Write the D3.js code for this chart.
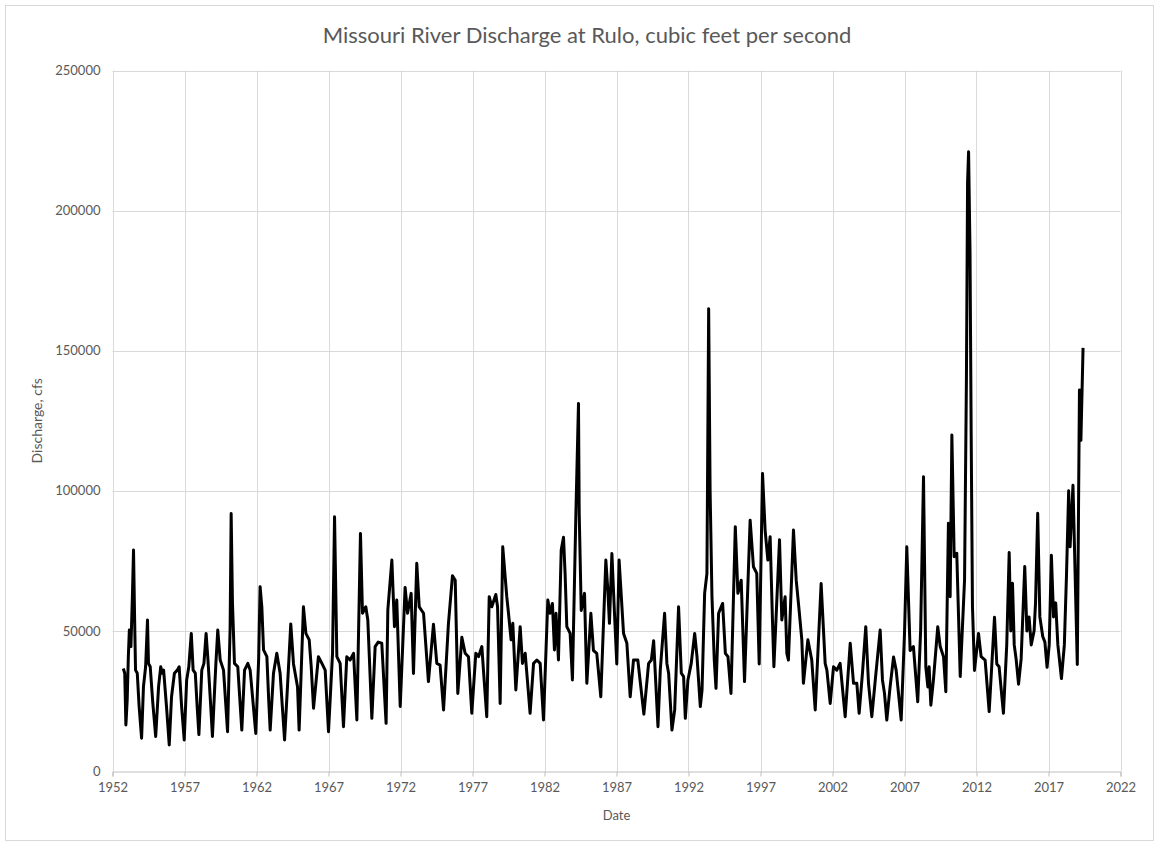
<!DOCTYPE html>
<html>
<head>
<meta charset="utf-8">
<script src="https://cdn.jsdelivr.net/npm/d3@7/dist/d3.min.js"></script>
<style>
  body { margin: 0; background: #fff; }
  text { font-family: Lato, "Open Sans", sans-serif; fill: #595959; }
</style>
</head>
<body>
<div id="visual"></div>
<script>
// Monthly-ish readings of discharge (decimal year, cfs)
const years = [
  1952.75,1952.85,1952.93,1953.02,1953.10,1953.17,1953.28,1953.38,1953.46,1953.53,1953.60,1953.72,1953.85,
  1954.02,1954.15,1954.30,1954.43,1954.50,1954.62,1954.80,1955.00,1955.20,1955.35,1955.45,1955.55,1955.75,
  1955.94,1956.10,1956.30,1956.50,1956.63,1956.80,1956.98,1957.15,1957.30,1957.47,1957.60,1957.75,1957.88,
  1958.00,1958.20,1958.35,1958.50,1958.63,1958.80,1958.94,1959.10,1959.18,1959.31,1959.48,1959.71,1959.85,
  1959.99,1960.17,1960.24,1960.33,1960.47,1960.70,1960.85,1960.98,1961.17,1961.40,1961.56,1961.75,1961.95,
  1962.15,1962.25,1962.37,1962.49,1962.72,1962.85,1962.95,1963.18,1963.41,1963.64,1963.78,1963.95,1964.15,
  1964.38,1964.57,1964.85,1964.96,1965.10,1965.26,1965.43,1965.66,1965.80,1965.96,1966.30,1966.54,1966.77,
  1967.00,1967.28,1967.42,1967.58,1967.81,1968.04,1968.27,1968.50,1968.74,1968.97,1969.22,1969.36,1969.59,
  1969.73,1970.01,1970.24,1970.45,1970.70,1971.00,1971.12,1971.40,1971.58,1971.74,1971.98,1972.32,1972.49,
  1972.74,1972.90,1973.13,1973.30,1973.60,1973.94,1974.29,1974.52,1974.75,1974.99,1975.33,1975.61,1975.80,
  1975.98,1976.26,1976.49,1976.72,1976.95,1977.23,1977.42,1977.65,1977.76,1977.99,1978.16,1978.34,1978.62,
  1978.74,1978.92,1979.10,1979.38,1979.50,1979.68,1979.80,1980.01,1980.31,1980.47,1980.66,1981.00,1981.24,
  1981.47,1981.70,1981.93,1982.23,1982.39,1982.55,1982.69,1982.80,1982.97,1983.16,1983.32,1983.43,1983.55,
  1983.78,1983.94,1984.18,1984.36,1984.41,1984.55,1984.78,1984.87,1984.94,1985.22,1985.40,1985.63,1985.91,
  1986.26,1986.40,1986.51,1986.68,1986.86,1987.02,1987.18,1987.49,1987.72,1987.95,1988.18,1988.48,1988.90,
  1989.23,1989.42,1989.58,1989.88,1990.04,1990.34,1990.50,1990.62,1990.85,1991.04,1991.31,1991.50,1991.66,
  1991.78,1991.96,1992.19,1992.43,1992.59,1992.82,1992.94,1993.12,1993.28,1993.40,1993.50,1993.63,1993.79,
  1993.91,1994.09,1994.37,1994.56,1994.74,1994.95,1995.13,1995.25,1995.43,1995.66,1995.89,1996.28,1996.51,
  1996.74,1996.91,1997.14,1997.32,1997.51,1997.67,1997.83,1997.93,1998.32,1998.48,1998.71,1998.83,1998.94,
  1999.29,1999.48,1999.68,1999.87,1999.98,2000.29,2000.56,2000.80,2001.21,2001.49,2001.61,2001.84,2002.07,
  2002.30,2002.53,2002.88,2003.23,2003.46,2003.69,2003.85,2004.08,2004.31,2004.50,2004.73,2004.98,2005.31,
  2005.47,2005.61,2005.77,2006.00,2006.24,2006.42,2006.77,2007.00,2007.16,2007.39,2007.62,2007.92,2008.12,
  2008.32,2008.48,2008.62,2008.71,2008.83,2009.01,2009.31,2009.48,2009.71,2009.87,2010.05,2010.17,2010.29,
  2010.45,2010.63,2010.87,2011.17,2011.30,2011.38,2011.45,2011.55,2011.63,2011.72,2011.86,2012.14,2012.32,
  2012.60,2012.88,2013.25,2013.41,2013.57,2013.87,2014.10,2014.27,2014.38,2014.50,2014.62,2014.75,2014.92,
  2015.10,2015.35,2015.50,2015.65,2015.80,2016.00,2016.10,2016.25,2016.40,2016.60,2016.75,2016.90,2017.05,
  2017.20,2017.35,2017.50,2017.65,2017.90,2018.10,2018.25,2018.40,2018.50,2018.70,2018.85,2019.00,2019.15,
  2019.25,2019.40
];
const discharge = [
  36600,34900,16400,25300,40800,50300,44400,62000,78900,56000,36000,34900,23000,
  11700,30100,37200,53900,38400,37200,24200,12300,30100,37200,34900,36000,23000,
  9300,26500,34900,36000,37200,23000,11100,32500,37200,49100,36000,34900,23000,
  13000,36000,38400,49100,39600,25000,12300,30000,38400,50300,39600,36000,25000,
  14000,51500,91900,60000,38400,37200,25000,14600,36000,38400,36000,25000,13400,
  40000,65800,58600,43200,40800,25000,14600,34900,42000,34900,24000,11100,30000,
  52500,38200,30000,14600,35000,58600,49100,46800,37200,22400,40800,38400,36000,
  14000,42000,90700,40800,38400,15800,40800,39600,42000,18200,84800,56300,58600,
  53900,18800,44400,46000,45600,17000,57500,75300,51500,61000,23000,65500,56300,
  63400,34800,74100,58600,56300,31900,52400,38400,37800,21800,52700,69700,68100,
  27700,47700,42000,40800,20600,42000,40800,44400,36000,19400,62200,58600,63000,
  58600,24100,80000,62200,56300,46800,52700,28900,51500,38400,42000,20600,38400,
  39600,38400,18200,61000,56300,59800,43200,56300,39600,78900,83400,70500,51500,
  49100,32500,91900,131200,91900,57300,63400,44400,31300,56300,43000,42000,26500,
  75300,64400,52700,77600,56300,38200,75300,49100,45600,26500,39600,39600,20300,
  38400,39600,46500,15800,36000,56300,38400,34900,14600,21800,58600,34900,33700,
  18800,32500,38400,49100,40800,23000,28900,63400,70500,165000,100000,62200,39600,
  29500,56300,59800,42000,40800,27700,63400,87200,63400,68100,31900,89500,72900,
  70500,38200,106200,86000,75300,83600,53900,37200,82500,53900,62200,42000,39600,
  86000,68100,57400,46800,31300,46800,39600,21800,66900,38400,36000,24100,37200,
  36000,38400,19400,45600,31300,31300,20600,34900,51500,31300,19400,33000,50300,
  32500,27700,18200,30000,40700,36000,18200,49100,80000,43000,44400,24700,50000,
  105000,37200,30000,37200,23500,32500,51500,44400,40800,28300,88400,62200,119900,
  76500,77700,33700,68100,140000,210000,221000,185000,120000,58600,35900,49100,40800,
  39600,21200,54900,38200,37200,20600,45000,78000,50000,67000,45000,40000,31000,
  40000,73000,50000,55000,45000,50000,60000,92000,55000,48000,46000,37000,45000,
  77000,55000,60000,45000,33000,45000,70000,100000,80000,102000,70000,38000,136000,
  118000,151000
];
const xTicks = [1952,1957,1962,1967,1972,1977,1982,1987,1992,1997,2002,2007,2012,2017,2022];
const yTicks = [0,50000,100000,150000,200000,250000];

const W = 1159, H = 846;
const plotL = 112.5, plotR = 1120.5, plotT = 70.5, plotB = 771;

const svg = d3.select("#visual").append("svg")
  .attr("width", W).attr("height", H);

svg.append("rect")
  .attr("x", 5.5).attr("y", 5.5)
  .attr("width", W - 11).attr("height", H - 11)
  .attr("fill", "#fff").attr("stroke", "#d9d9d9");

const x = d3.scaleLinear().domain([1952, 2022]).range([plotL, plotR]);
const y = d3.scaleLinear().domain([0, 250000]).range([plotB, plotT]);

// gridlines
svg.append("g")
  .selectAll("line").data(yTicks.slice(1)).join("line")
  .attr("x1", plotL).attr("x2", plotR)
  .attr("y1", d => Math.round(y(d)) + 0.5).attr("y2", d => Math.round(y(d)) + 0.5)
  .attr("stroke", "#d9d9d9");
svg.append("g")
  .selectAll("line").data(xTicks).join("line")
  .attr("x1", d => Math.round(x(d)) + 0.5).attr("x2", d => Math.round(x(d)) + 0.5)
  .attr("y1", plotT).attr("y2", plotB)
  .attr("stroke", "#d9d9d9");

// x axis
const xAxis = svg.append("g")
  .attr("transform", "translate(0," + (Math.round(plotB) + 0.5) + ")")
  .call(d3.axisBottom(x).tickValues(xTicks).tickFormat(d3.format("d")).tickSize(5).tickPadding(6));
xAxis.select(".domain").attr("stroke", "#bfbfbf");
xAxis.selectAll(".tick line").attr("stroke", "#bfbfbf");
xAxis.selectAll("text").style("font-size", "13px").attr("fill", "#595959");

// y axis
const yAxis = svg.append("g")
  .attr("transform", "translate(" + plotL + ",0)")
  .call(d3.axisLeft(y).tickValues(yTicks).tickFormat(d3.format("d")).tickSize(0).tickPadding(12));
yAxis.select(".domain").remove();
yAxis.selectAll("text").style("font-size", "13px").attr("fill", "#595959");

// line
const line = d3.line()
  .x((d, i) => x(years[i]))
  .y(d => y(d));

svg.append("path")
  .datum(discharge)
  .attr("fill", "none")
  .attr("stroke", "#000")
  .attr("stroke-width", 3)
  .attr("stroke-linejoin", "round")
  .attr("d", line);

// titles
svg.append("text")
  .attr("x", 587).attr("y", 43)
  .attr("text-anchor", "middle")
  .style("font-size", "22px")
  .text("Missouri River Discharge at Rulo, cubic feet per second");

svg.append("text")
  .attr("x", (plotL + plotR) / 2).attr("y", 820)
  .attr("text-anchor", "middle")
  .style("font-size", "13px")
  .text("Date");

svg.append("text")
  .attr("transform", "rotate(-90)")
  .attr("x", -(plotT + plotB) / 2).attr("y", 42)
  .attr("text-anchor", "middle")
  .style("font-size", "14px")
  .text("Discharge, cfs");
</script>
</body>
</html>
